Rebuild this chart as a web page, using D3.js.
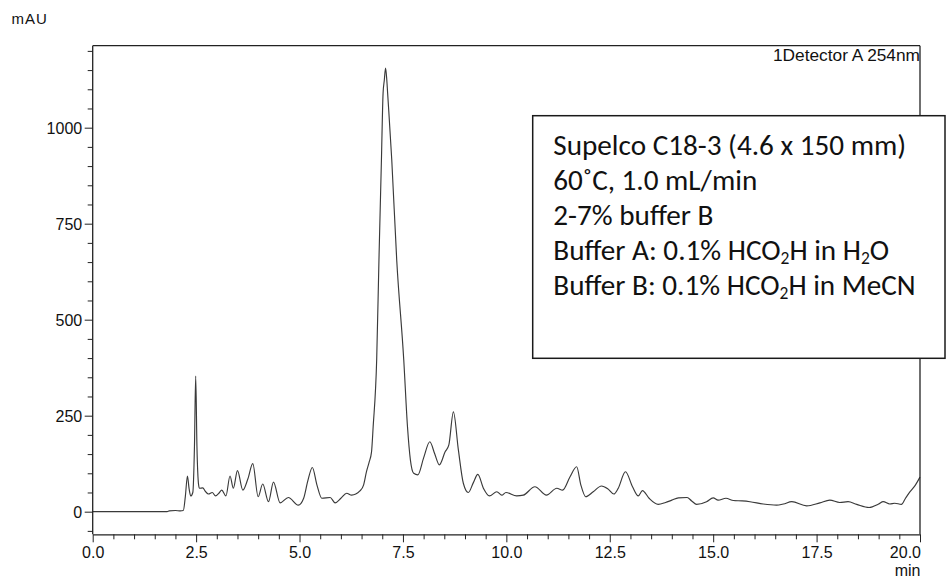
<!DOCTYPE html>
<html>
<head>
<meta charset="utf-8">
<script src="https://cdn.jsdelivr.net/npm/d3@7"></script>
<style>
  html, body { margin: 0; padding: 0; background: #fff; }
  svg { display: block; }
  .axis-text { font-family: "Liberation Sans", Arial, sans-serif; fill: #111; }
</style>
</head>
<body>
<svg id="chart" width="946" height="579"></svg>
<script>
// Chromatogram trace: retention time (min) and absorbance (mAU)
const times = [
  0.00, 1.80, 1.85, 2.00, 2.12, 2.19, 2.24, 2.29, 2.33, 2.37, 2.42, 2.46, 2.49, 2.52, 2.56, 2.58,
  2.66, 2.73, 2.80, 2.89, 2.97, 3.05, 3.12, 3.22, 3.32, 3.40, 3.50, 3.63, 3.75, 3.87, 4.00, 4.11,
  4.25, 4.37, 4.53, 4.73, 4.97, 5.10, 5.20, 5.31, 5.42, 5.54, 5.74, 5.86, 6.00, 6.14, 6.26, 6.46,
  6.55, 6.62, 6.68, 6.74, 6.78, 6.865, 6.92, 6.98, 7.02, 7.05, 7.08, 7.11, 7.13, 7.23, 7.35, 7.52,
  7.61, 7.68, 7.76, 7.86, 8.00, 8.15, 8.27, 8.38, 8.52, 8.61, 8.72, 8.84, 8.96, 9.08, 9.20, 9.31,
  9.45, 9.59, 9.77, 9.89, 9.99, 10.25, 10.41, 10.69, 10.97, 11.22, 11.36, 11.54, 11.70, 11.80, 11.92, 12.10,
  12.30, 12.45, 12.60, 12.70, 12.88, 13.05, 13.19, 13.29, 13.45, 13.67, 13.85, 14.00, 14.16, 14.37, 14.48, 14.60,
  14.84, 15.00, 15.12, 15.31, 15.49, 15.70, 15.89, 16.21, 16.53, 16.70, 16.90, 17.26, 17.58, 17.82, 18.06, 18.26,
  18.47, 18.77, 19.00, 19.11, 19.27, 19.39, 19.55, 19.65, 19.76, 19.88, 20.00
];
const absorbance = [
  0, 0, 2, 3, 2, 3, 40, 93, 60, 41, 50, 170, 353, 170, 70, 61,
  62, 52, 46, 50, 41, 48, 56, 41, 93, 61, 107, 56, 85, 125, 39, 72,
  26, 77, 23, 37, 17, 35, 80, 115, 70, 35, 37, 23, 35, 48, 43, 54,
  70, 105, 128, 155, 221, 395, 655, 916, 1090, 1124, 1155, 1124, 1090, 916, 655, 395,
  221, 135, 100, 96, 140, 182, 150, 122, 156, 174, 260, 161, 74, 50, 75, 97,
  60, 41, 52, 43, 50, 41, 43, 65, 43, 61, 56, 91, 117, 70, 39, 52,
  67, 60, 46, 60, 104, 65, 41, 55, 35, 19, 24, 30, 36, 37, 28, 19,
  26, 36, 30, 35, 29, 28, 26, 20, 17, 20, 26, 15, 23, 30, 24, 26,
  19, 11, 20, 26, 20, 22, 19, 35, 52, 68, 90
];

// Axis ticks
const xMajorTicks = [0, 2.5, 5, 7.5, 10, 12.5, 15, 17.5, 20];
const xTickLabels = ["0.0", "2.5", "5.0", "7.5", "10.0", "12.5", "15.0", "17.5", "20.0"];
const yMajorTicks = [0, 250, 500, 750, 1000];
const yTickLabels = ["0", "250", "500", "750", "1000"];

// Run conditions shown in the annotation box
const conditionLines = [
  [{ t: "Supelco C18-3 (4.6 x 150 mm)" }],
  [{ t: "60˚C, 1.0 mL/min" }],
  [{ t: "2-7% buffer B" }],
  [{ t: "Buffer A: 0.1% HCO" }, { t: "2", sub: true }, { t: "H in H" }, { t: "2", sub: true }, { t: "O" }],
  [{ t: "Buffer B: 0.1% HCO" }, { t: "2", sub: true }, { t: "H in MeCN" }]
];

const svg = d3.select("#chart");
const plotLeft = 92.7, plotRight = 920, plotTop = 45.7, plotBottom = 534.3;

const x = d3.scaleLinear().domain([0, 20]).range([plotLeft, plotRight]);
const y = d3.scaleLinear().domain([-58.9, 1213.5]).range([plotBottom, plotTop]);

// Trace
const pts = times.map((t, i) => [t, absorbance[i]]);
svg.append("path")
  .datum(pts)
  .attr("fill", "none")
  .attr("stroke", "#3a3a3a")
  .attr("stroke-width", 1.15)
  .attr("stroke-linejoin", "round")
  .attr("d", d3.line().x(d => x(d[0])).y(d => y(d[1])).curve(d3.curveMonotoneX));

// Frame lines (top and right)
svg.append("line").attr("x1", plotLeft).attr("x2", plotRight).attr("y1", plotTop).attr("y2", plotTop)
  .attr("stroke", "#222").attr("stroke-width", 1.3);
svg.append("line").attr("x1", plotRight).attr("x2", plotRight).attr("y1", plotTop).attr("y2", plotBottom)
  .attr("stroke", "#222").attr("stroke-width", 1.3);

// X axis with major + minor ticks
const xMinor = d3.range(0, 20.001, 0.5).filter(v => Math.abs(v / 2.5 - Math.round(v / 2.5)) > 1e-6);
const xAxisG = svg.append("g").attr("transform", `translate(0,${plotBottom})`);
xAxisG.call(d3.axisBottom(x).tickValues(xMajorTicks).tickSize(8).tickSizeOuter(0)
  .tickFormat((d, i) => xTickLabels[i]));
xAxisG.append("g").call(d3.axisBottom(x).tickValues(xMinor).tickSize(5).tickSizeOuter(0).tickFormat(""))
  .select(".domain").remove();
xAxisG.selectAll("path.domain").attr("stroke", "#222").attr("stroke-width", 1.3);
xAxisG.selectAll(".tick line").attr("stroke", "#222").attr("stroke-width", 1);
xAxisG.selectAll(".tick text")
  .attr("class", "axis-text")
  .attr("font-size", 16)
  .attr("dy", null)
  .attr("y", 24);
xAxisG.selectAll(".tick text").filter(d => d === 20).attr("text-anchor", "end").attr("x", 0.5);

// Y axis with major + minor ticks
const yMinor = d3.range(-50, 1201, 50).filter(v => v % 250 !== 0);
const yAxisG = svg.append("g").attr("transform", `translate(${plotLeft},0)`);
yAxisG.call(d3.axisLeft(y).tickValues(yMajorTicks).tickSize(8).tickSizeOuter(0)
  .tickFormat((d, i) => yTickLabels[i]));
yAxisG.append("g").call(d3.axisLeft(y).tickValues(yMinor).tickSize(5).tickSizeOuter(0).tickFormat(""))
  .select(".domain").remove();
yAxisG.select("path.domain").attr("d", `M0,${plotTop}V${plotBottom}`).attr("stroke", "#222").attr("stroke-width", 1.3);
yAxisG.selectAll(".tick line").attr("stroke", "#222").attr("stroke-width", 1);
yAxisG.selectAll(".tick text")
  .attr("class", "axis-text")
  .attr("font-size", 16)
  .attr("x", -10.5)
  .attr("dy", "0.36em");

// Unit labels
svg.append("text").attr("class", "axis-text")
  .attr("x", 11.5).attr("y", 24).attr("font-size", 15).attr("letter-spacing", "1px")
  .text("mAU");
svg.append("text").attr("class", "axis-text")
  .attr("x", plotRight + 0.5).attr("y", 576).attr("text-anchor", "end").attr("font-size", 16)
  .text("min");
svg.append("text").attr("class", "axis-text")
  .attr("x", plotRight).attr("y", 60.5).attr("text-anchor", "end").attr("font-size", 16)
  .attr("textLength", 147).attr("lengthAdjust", "spacingAndGlyphs")
  .text("1Detector A 254nm");

// Conditions box
svg.append("rect")
  .attr("x", 532.7).attr("y", 115.7).attr("width", 412.3).attr("height", 242.6)
  .attr("fill", "#fff").attr("stroke", "#1a1a1a").attr("stroke-width", 1.5);

const boxText = svg.append("g")
  .attr("font-family", "Carlito, Lato, 'Noto Sans', sans-serif")
  .attr("fill", "#111");

function drawLines(fontSize) {
  boxText.selectAll("*").remove();
  const shift = fontSize * 0.12;
  conditionLines.forEach((parts, i) => {
    const txt = boxText.append("text")
      .attr("x", 553.3)
      .attr("y", 154.5 + i * 35.2)
      .attr("font-size", fontSize);
    let lowered = false;
    parts.forEach(p => {
      const ts = txt.append("tspan").text(p.t);
      if (p.sub) {
        ts.attr("font-size", fontSize * 0.6).attr("dy", lowered ? 0 : shift);
        lowered = true;
      } else {
        ts.attr("dy", lowered ? -shift : 0);
        lowered = false;
      }
    });
  });
}

// Fit the box text so the first line spans the intended width
drawLines(28);
const firstWidth = boxText.select("text").node().getComputedTextLength();
drawLines(28 * 353 / firstWidth);
</script>
</body>
</html>
